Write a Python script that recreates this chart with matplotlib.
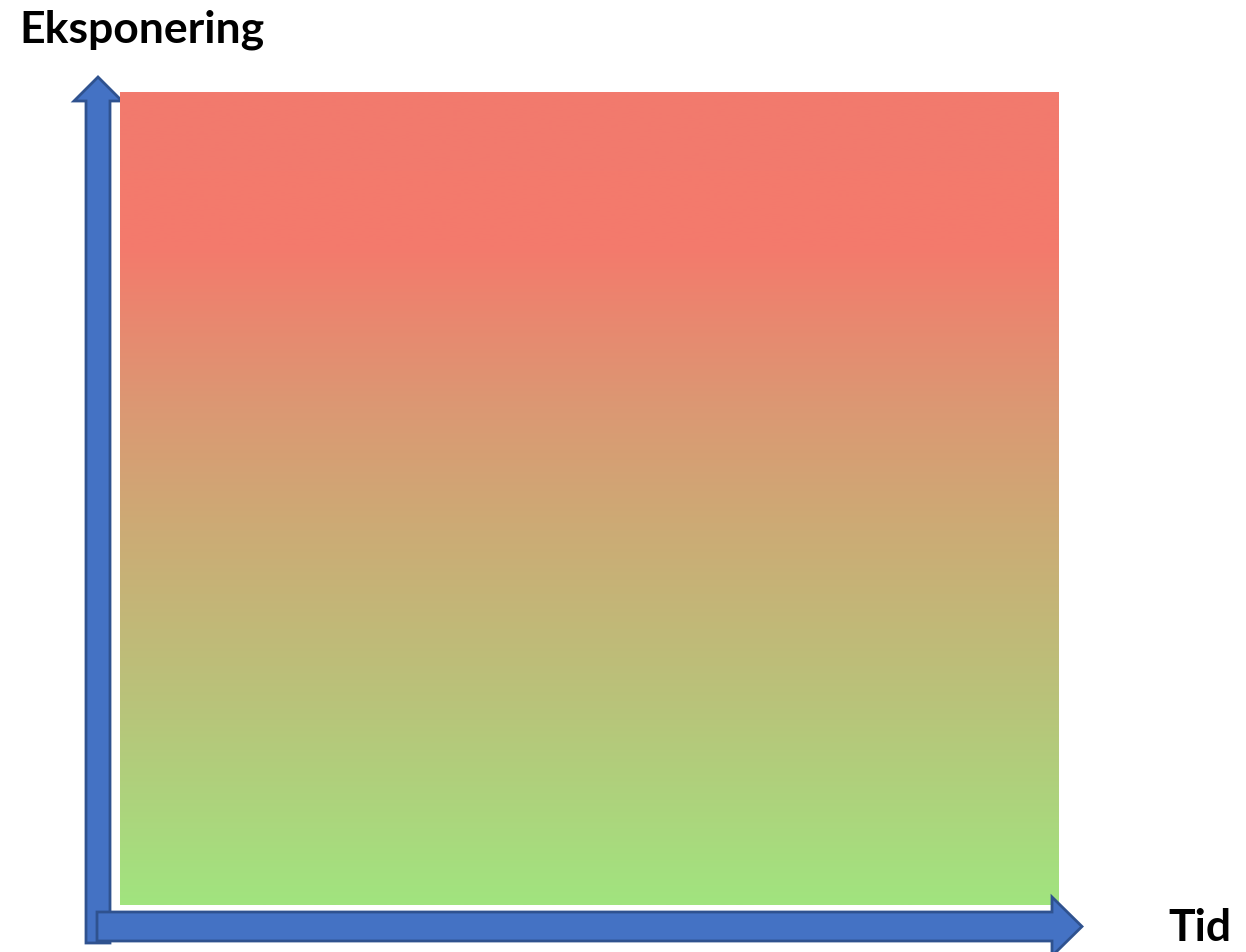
import numpy as np
import matplotlib.pyplot as plt
from matplotlib.colors import LinearSegmentedColormap
from matplotlib.patches import Polygon

# gradient stops (fraction from top, colour)
stop_pos = [0.0, 0.19, 0.38, 0.53, 0.75, 1.0]
stop_col = ["#F27A6E", "#F47A6C", "#DC9773", "#CDAA75", "#B9C37A", "#A1E47F"]

y_label = "Eksponering"
x_label = "Tid"

W, H = 1246, 952
fig = plt.figure(figsize=(W / 100, H / 100), dpi=100)
ax = fig.add_axes([0, 0, 1, 1])
ax.set_xlim(0, W)
ax.set_ylim(H, 0)
ax.axis("off")

fill = "#4472C4"
edge = "#2F528F"

# vertical arrow
v_arrow = [(86, 943), (110, 943), (110, 101), (122, 101), (98, 77),
           (74, 101), (86, 101)]
ax.add_patch(Polygon(v_arrow, closed=True, fc=fill, ec=edge, lw=2, zorder=2))

# gradient box
cmap = LinearSegmentedColormap.from_list("grad", list(zip(stop_pos, stop_col)))
grad = np.linspace(0, 1, 512).reshape(-1, 1)
ax.imshow(grad, cmap=cmap, aspect="auto", extent=(120, 1059, 905, 92),
          zorder=3, interpolation="bilinear")

# horizontal arrow
h_arrow = [(97, 912), (1052, 912), (1052, 897), (1082, 926.5), (1052, 956),
           (1052, 941), (97, 941)]
ax.add_patch(Polygon(h_arrow, closed=True, fc=fill, ec=edge, lw=2, zorder=4))

ax.text(19, 30, y_label, fontsize=32, fontweight="bold", family="Lato",
        ha="left", va="center")
ax.text(1168, 928, x_label, fontsize=32, fontweight="bold", family="Lato",
        ha="left", va="center")

ax.set_xlim(0, W)
ax.set_ylim(H, 0)
fig.savefig("out.png", dpi=100)
